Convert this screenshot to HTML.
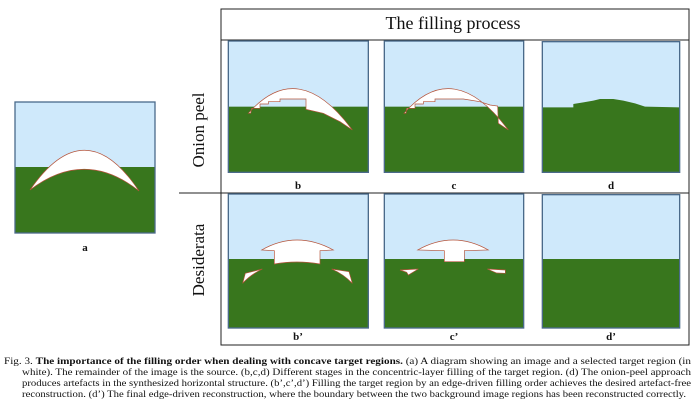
<!DOCTYPE html>
<html><head><meta charset="utf-8"><style>
html,body{margin:0;padding:0;background:#fff;width:700px;height:408px;overflow:hidden}
svg{display:block}
text{font-family:"Liberation Serif",serif;fill:#111}
.lab{font-weight:bold;font-size:11px}
.cap{font-size:9.8px}
</style></head><body>
<svg width="700" height="408" viewBox="0 0 700 408">
<g stroke="#222" stroke-width="1" fill="none">
<rect x="221" y="9" width="468" height="336"/>
<line x1="221" y1="40" x2="689" y2="40"/>
<line x1="179" y1="193" x2="689" y2="193"/>
</g>
<text x="453" y="29" font-size="18" text-anchor="middle">The filling process</text>
<text transform="translate(204,130) rotate(-90)" font-size="17" text-anchor="middle">Onion peel</text>
<text transform="translate(204,260) rotate(-90)" font-size="17" text-anchor="middle">Desiderata</text>

<g>
<rect x="15" y="102" width="140" height="131" fill="#cfe9fb"/>
<rect x="15" y="167" width="140" height="66" fill="#38761d"/>
<path d="M30,190 Q85,110 139,191 Q85,148 30,190 Z" fill="#fff" stroke="#b4533a" stroke-width="0.7"/>
<rect x="15" y="102" width="140" height="131" fill="none" stroke="#4a6a8a" stroke-width="1.3"/>
</g>
<text x="85" y="251" class="lab" text-anchor="middle">a</text>

<g transform="translate(180,0) scale(0.33333)">
<g>
<rect x="145" y="123" width="420" height="394" fill="#cfe9fb"/>
<rect x="145" y="320" width="420" height="197" fill="#38761d"/>
<path d="M205,340 Q355,170 517,390 L480,365 L430,340 L378,328 L378,297 L300,297 L300,305 L265,305 L265,312 L240,312 L240,325 L215,325 L212,340 Z" fill="#fff" stroke="#b4533a" stroke-width="2"/>
<rect x="145" y="123" width="420" height="394" fill="none" stroke="#4a6a8a" stroke-width="4"/>
</g>
<g>
<rect x="613" y="123" width="418" height="394" fill="#cfe9fb"/>
<rect x="613" y="320" width="418" height="197" fill="#38761d"/>
<path d="M672,340 Q820,170 985,390 L955,370 L953,318 L930,315 L900,305 L850,297 L765,297 L765,305 L730,305 L730,312 L705,312 L705,325 L680,325 L678,340 Z" fill="#fff" stroke="#b4533a" stroke-width="2"/>
<rect x="613" y="123" width="418" height="394" fill="none" stroke="#4a6a8a" stroke-width="4"/>
</g>
<g>
<rect x="1087" y="125" width="412" height="392" fill="#cfe9fb"/>
<path d="M1087,322 L1180,322 L1180,312 L1210,307 L1240,302 L1260,297 L1300,297 L1330,302 L1365,310 L1395,320 L1499,322 L1499,517 L1087,517 Z" fill="#38761d"/>
<rect x="1087" y="125" width="412" height="392" fill="none" stroke="#4a6a8a" stroke-width="4"/>
</g>
</g>
<text x="298" y="189" class="lab" text-anchor="middle">b</text>
<text x="454" y="189" class="lab" text-anchor="middle">c</text>
<text x="611" y="189" class="lab" text-anchor="middle">d</text>

<g transform="translate(180,190) scale(0.33333)">
<g>
<rect x="145" y="12" width="420" height="402" fill="#cfe9fb"/>
<rect x="145" y="207" width="420" height="207" fill="#38761d"/>
<path d="M245,180 Q350,120 460,180 L420,182 L420,222 Q350,210 283,222 L283,182 Z" fill="#fff" stroke="#b4533a" stroke-width="2"/>
<path d="M188,280 L196,250 L247,237 Q210,255 188,280 Z" fill="#fff" stroke="#b4533a" stroke-width="2"/>
<path d="M455,237 L507,245 L517,280 Q490,252 455,237 Z" fill="#fff" stroke="#b4533a" stroke-width="2"/>
<rect x="145" y="12" width="420" height="402" fill="none" stroke="#4a6a8a" stroke-width="4"/>
</g>
<g>
<rect x="613" y="12" width="418" height="402" fill="#cfe9fb"/>
<rect x="613" y="207" width="418" height="207" fill="#38761d"/>
<path d="M713,180 Q820,120 925,180 L853,182 L853,215 L793,215 L793,182 Z" fill="#fff" stroke="#b4533a" stroke-width="2"/>
<path d="M660,240 L715,237 L685,255 L680,247 Z" fill="#fff" stroke="#b4533a" stroke-width="2"/>
<path d="M922,237 L976,240 L976,250 L950,249 Z" fill="#fff" stroke="#b4533a" stroke-width="2"/>
<rect x="613" y="12" width="418" height="402" fill="none" stroke="#4a6a8a" stroke-width="4"/>
</g>
<g>
<rect x="1087" y="14" width="412" height="400" fill="#cfe9fb"/>
<rect x="1087" y="207" width="412" height="207" fill="#38761d"/>
<rect x="1087" y="14" width="412" height="400" fill="none" stroke="#4a6a8a" stroke-width="4"/>
</g>
</g>
<text x="298" y="340" class="lab" text-anchor="middle">b’</text>
<text x="454" y="340" class="lab" text-anchor="middle">c’</text>
<text x="611" y="340" class="lab" text-anchor="middle">d’</text>

<g>
<text class="cap" x="4" y="364" textLength="687" lengthAdjust="spacingAndGlyphs">Fig. 3.   <tspan font-weight="bold">The importance of the filling order when dealing with concave target regions.</tspan>  (a) A diagram showing an image and a selected target region (in</text>
<text class="cap" x="22" y="375" textLength="669" lengthAdjust="spacingAndGlyphs">white).  The remainder of the image is the source.  (b,c,d) Different stages in the concentric-layer filling of the target region.  (d) The onion-peel approach</text>
<text class="cap" x="22" y="386" textLength="669" lengthAdjust="spacingAndGlyphs">produces artefacts in the synthesized horizontal structure.  (b’,c’,d’) Filling the target region by an edge-driven filling order achieves the desired artefact-free</text>
<text class="cap" x="22" y="397" textLength="664" lengthAdjust="spacingAndGlyphs">reconstruction.  (d’) The final edge-driven reconstruction, where the boundary between the two background image regions has been reconstructed correctly.</text>
</g>
</svg>
</body></html>
